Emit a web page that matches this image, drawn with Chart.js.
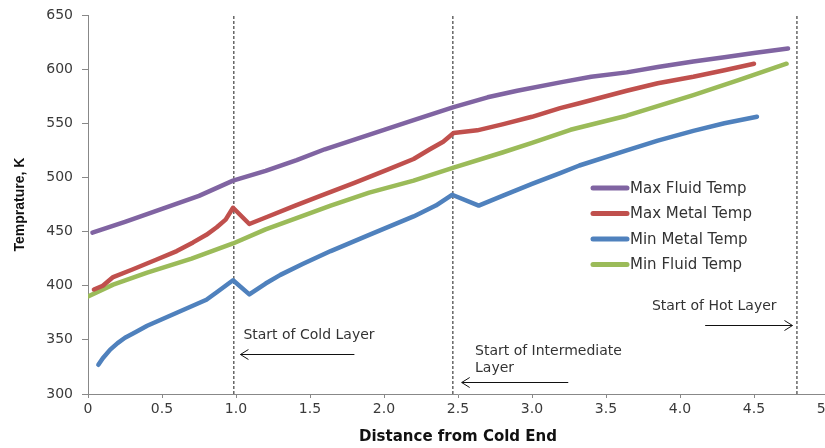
<!DOCTYPE html>
<html>
<head>
<meta charset="utf-8">
<script src="https://cdn.jsdelivr.net/npm/chart.js@4.4.1/dist/chart.umd.min.js"></script>
<style>
html, body { margin: 0; padding: 0; overflow: hidden; background: #fff; }
#frame { width: 825px; height: 448px; overflow: hidden; position: relative; }
</style>
</head>
<body>
<div id="frame">
<canvas id="tempChart" width="850" height="448"></canvas>
</div>
<script>
// Distance from cold end (x) and temperature in K (y)
const maxFluidX = [0.03, 0.25, 0.5, 0.75, 0.98, 1.2, 1.41, 1.6, 1.8, 2.0, 2.2, 2.47, 2.7, 2.9, 3.2, 3.4, 3.64, 3.85, 4.09, 4.3, 4.5, 4.73];
const maxFluidY = [449, 459, 471, 483, 497, 506, 516, 526, 535, 544, 553, 565, 574, 580, 588, 593, 597, 602, 607, 611, 615, 619];

const maxMetalX = [0.04, 0.1, 0.17, 0.3, 0.46, 0.6, 0.71, 0.8, 0.87, 0.93, 0.98, 1.09, 1.2, 1.4, 1.57, 1.8, 2.02, 2.2, 2.31, 2.4, 2.47, 2.63, 2.8, 3.0, 3.19, 3.32, 3.64, 3.85, 4.09, 4.3, 4.5];
const maxMetalY = [396.5, 400, 408, 415, 424, 432, 440, 447, 454, 461, 472, 457, 463, 474, 483, 495, 507, 517, 526, 533, 541, 543.5, 549, 556, 564, 568.5, 580, 587, 593, 599, 605];

const minMetalX = [0.07, 0.1, 0.15, 0.2, 0.25, 0.32, 0.4, 0.5, 0.6, 0.7, 0.8, 0.87, 0.98, 1.09, 1.2, 1.3, 1.45, 1.64, 1.9, 2.2, 2.35, 2.46, 2.64, 2.8, 3.0, 3.19, 3.32, 3.64, 3.85, 4.09, 4.3, 4.52];
const minMetalY = [327, 333, 341, 347, 352, 357, 363, 369, 375, 381, 387, 394, 405, 392, 402, 410, 420, 432, 447, 464, 474, 484, 474, 483, 494, 504, 511, 525, 534, 543, 550, 556];

const minFluidX = [0, 0.17, 0.4, 0.7, 0.98, 1.2, 1.4, 1.64, 1.9, 2.2, 2.47, 2.8, 3.0, 3.26, 3.64, 4.09, 4.4, 4.72];
const minFluidY = [390, 401, 412, 425, 439, 452, 462, 474, 486, 497, 509, 523, 532, 544, 557, 576, 590, 605];

// Layer boundaries (dashed verticals)
const layerX = [0.985, 2.465, 4.79];

// Text notes and arrows, in data units
const noteText = ['Start of Cold Layer', 'Start of Intermediate', 'Layer', 'Start of Hot Layer'];
const noteX = [1.05, 2.615, 2.615, 3.81];
const noteY = [354, 339, 324, 381];
const arrowFromX = [1.80, 3.245, 4.17];
const arrowToX = [1.03, 2.525, 4.76];
const arrowY = [337, 311.5, 363.5];

const yTicks = [300, 350, 400, 450, 500, 550, 600, 650];

function toPoints(xs, ys) {
    return xs.map((x, i) => ({ x: x, y: ys[i] }));
}

function curve(label, xs, ys, color) {
    return {
        label: label,
        data: toPoints(xs, ys),
        borderColor: color,
        backgroundColor: color,
        borderWidth: 4.5,
        borderCapStyle: 'round',
        borderJoinStyle: 'round',
        pointRadius: 0,
        tension: 0,
        fill: false
    };
}

const datasets = [
    curve('Max Fluid Temp', maxFluidX, maxFluidY, '#8064a2'),
    curve('Max Metal Temp', maxMetalX, maxMetalY, '#c0504d'),
    curve('Min Metal Temp', minMetalX, minMetalY, '#4f81bd'),
    curve('Min Fluid Temp', minFluidX, minFluidY, '#9bbb59')
];

layerX.forEach(lx => {
    datasets.push({
        label: '',
        data: [{ x: lx, y: 300 }, { x: lx, y: 650 }],
        borderColor: '#666',
        borderWidth: 1.5,
        borderDash: [3, 2],
        pointRadius: 0,
        fill: false
    });
});

// draws notes, arrows and the legend box on top of the lines
const overlayPlugin = {
    id: 'overlay',
    afterDatasetsDraw(chart) {
        const ctx = chart.ctx;
        const xs = chart.scales.x;
        const ys = chart.scales.y;
        ctx.save();

        ctx.fillStyle = '#333';
        ctx.font = '14px "DejaVu Sans"';
        ctx.textBaseline = 'middle';
        ctx.textAlign = 'left';
        noteText.forEach((t, i) => {
            ctx.fillText(t, xs.getPixelForValue(noteX[i]), ys.getPixelForValue(noteY[i]));
        });

        ctx.strokeStyle = '#111';
        ctx.lineWidth = 1;
        arrowY.forEach((ay, i) => {
            const x1 = xs.getPixelForValue(arrowFromX[i]);
            const x2 = xs.getPixelForValue(arrowToX[i]);
            const py = Math.round(ys.getPixelForValue(ay)) + 0.5;
            const dir = x2 > x1 ? 1 : -1;
            ctx.beginPath();
            ctx.moveTo(x1, py);
            ctx.lineTo(x2, py);
            ctx.moveTo(x2 - dir * 8, py - 5);
            ctx.lineTo(x2, py);
            ctx.lineTo(x2 - dir * 8, py + 5);
            ctx.stroke();
        });

        // legend
        const legendLeft = 593;
        const legendTop = 188;
        const rowGap = 25.5;
        ctx.font = '15px "DejaVu Sans"';
        ctx.fillStyle = '#333';
        chart.data.datasets.slice(0, 4).forEach((ds, i) => {
            const ly = legendTop + i * rowGap;
            ctx.strokeStyle = ds.borderColor;
            ctx.lineWidth = 5;
            ctx.lineCap = 'round';
            ctx.beginPath();
            ctx.moveTo(legendLeft, ly);
            ctx.lineTo(legendLeft + 34, ly);
            ctx.stroke();
            ctx.fillText(ds.label, legendLeft + 37, ly + 1);
        });

        ctx.restore();
    }
};

const axisFont = { family: 'DejaVu Sans', size: 14 };

new Chart(document.getElementById('tempChart'), {
    type: 'line',
    data: { datasets: datasets },
    plugins: [overlayPlugin],
    options: {
        responsive: false,
        animation: false,
        layout: { padding: { top: 15, right: 22, bottom: 0, left: 0 } },
        plugins: {
            legend: { display: false },
            tooltip: { enabled: false }
        },
        scales: {
            x: {
                type: 'linear',
                min: 0,
                max: 5,
                ticks: { stepSize: 0.5, font: axisFont, color: '#3a3a3a', padding: 3, maxRotation: 0 },
                grid: { drawOnChartArea: false, tickLength: 4, color: '#888' },
                border: { color: '#888' },
                title: {
                    display: true,
                    text: 'Distance from Cold End',
                    font: { family: 'DejaVu Sans', size: 15, weight: 'bold' },
                    color: '#111',
                    padding: { top: 0, bottom: 2 }
                },
                afterFit(scale) {
                    scale.height = 54;
                    scale.paddingLeft = 0;
                    scale.paddingRight = 0;
                }
            },
            y: {
                min: 300,
                max: 650,
                afterBuildTicks(scale) { scale.ticks = yTicks.map(v => ({ value: v })); },
                ticks: { font: axisFont, color: '#3a3a3a', padding: 9 },
                grid: { drawOnChartArea: false, tickLength: 6, color: '#888' },
                border: { color: '#888' },
                title: {
                    display: true,
                    text: 'Temprature, K',
                    font: { family: 'Liberation Sans', size: 14, weight: 'bold' },
                    color: '#111',
                    padding: { top: 12, bottom: 0 }
                },
                afterFit(scale) {
                    scale.width = 88;
                    scale.paddingTop = 0;
                    scale.paddingBottom = 0;
                }
            }
        }
    }
});
</script>
</body>
</html>
